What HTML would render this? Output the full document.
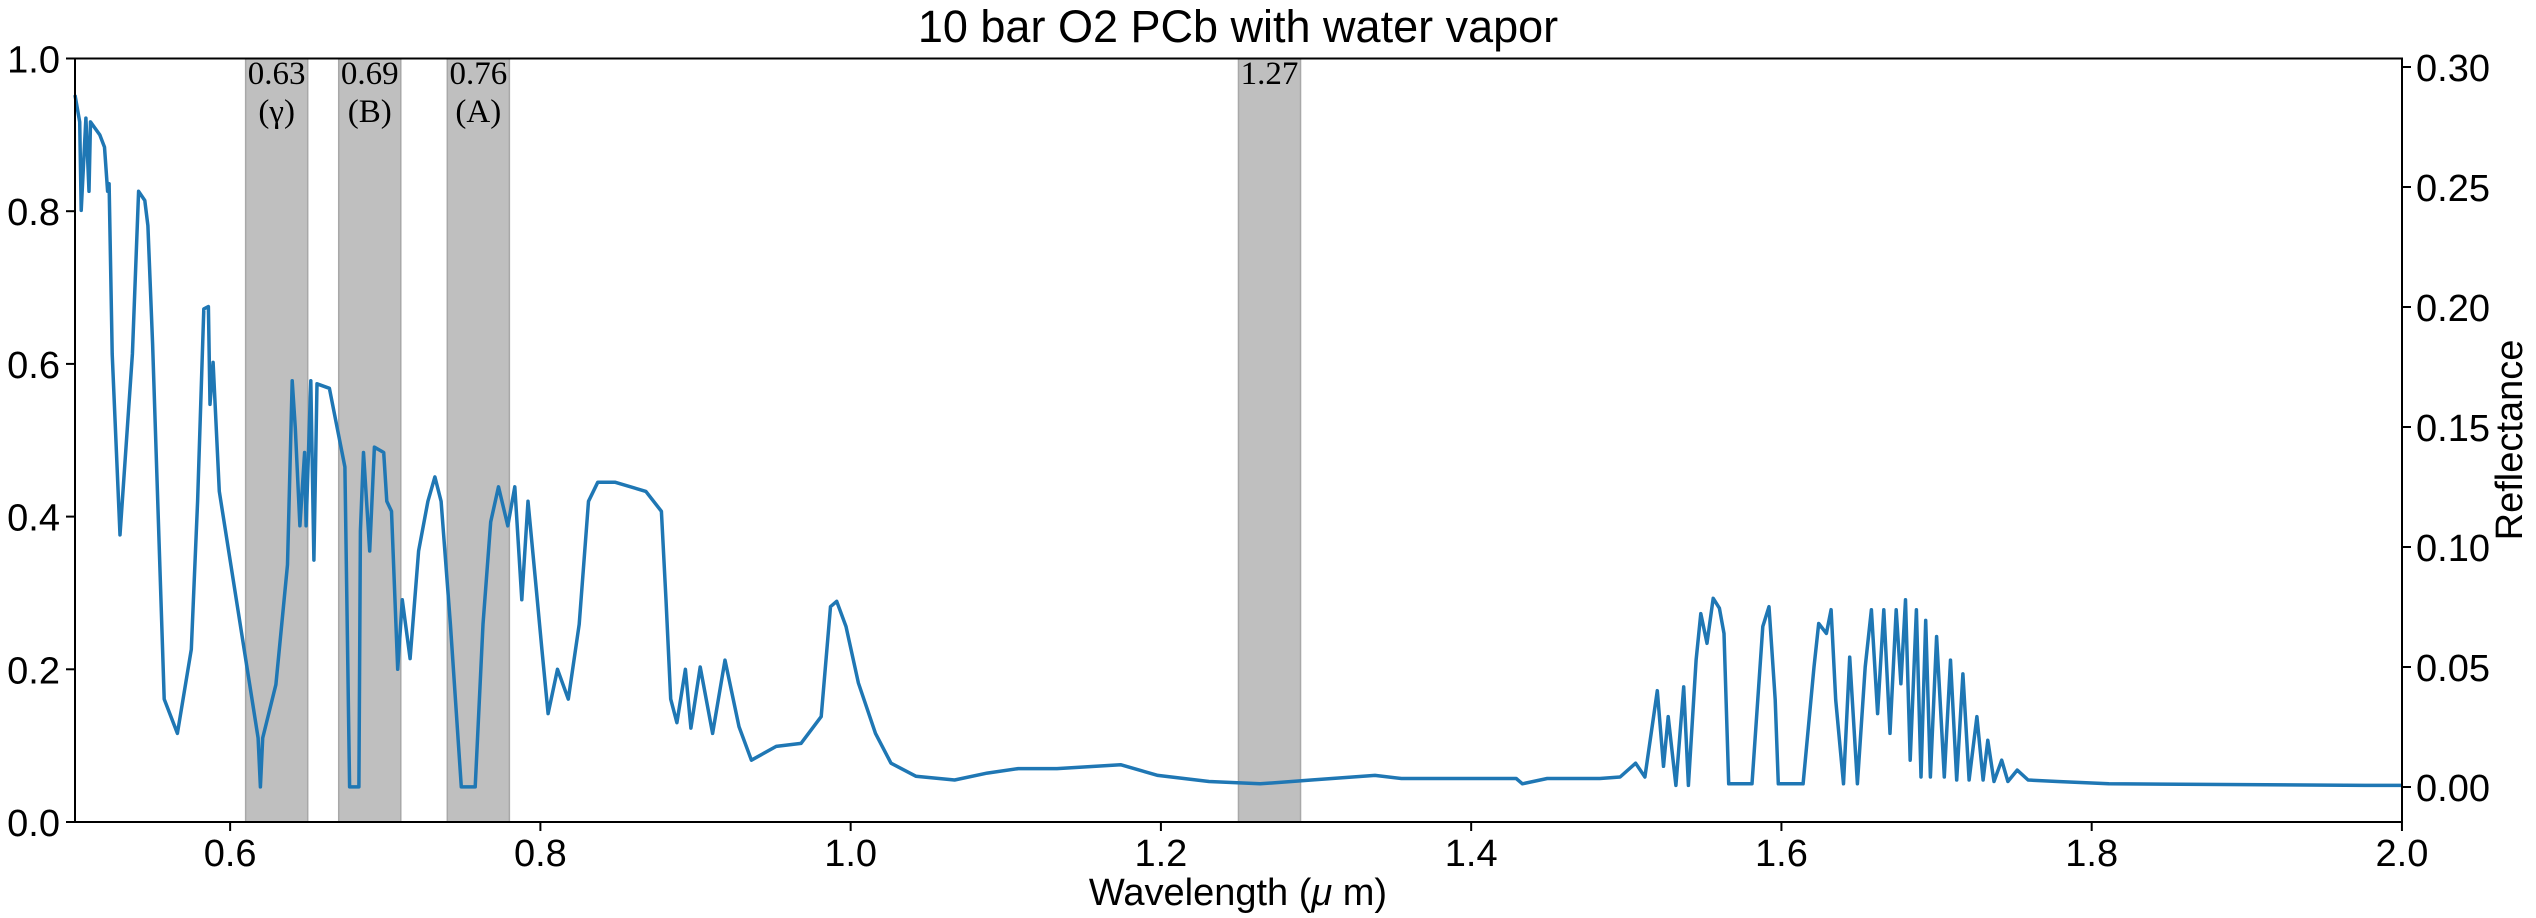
<!DOCTYPE html>
<html><head><meta charset="utf-8"><style>
body{margin:0;background:#fff;}
svg{display:block;font-family:"Liberation Sans","DejaVu Sans",sans-serif;}
</style></head><body>
<svg id="chart" width="2536" height="918" viewBox="0 0 2536 918">
<g id="bands"></g>
<g id="series"></g>
<rect x="75" y="58.5" width="2327" height="763.5" fill="none" stroke="#000" stroke-width="2"/>
<g id="xticks"></g>
<g id="yticks"></g>
<g id="rticks"></g>
<text x="1238" y="42" font-size="45" text-anchor="middle">10 bar O2 PCb with water vapor</text>
<text x="1238" y="905" font-size="38" text-anchor="middle">Wavelength (<tspan font-style="italic">μ</tspan> m)</text>
<text x="0" y="0" font-size="38" text-anchor="middle" transform="translate(2522,440) rotate(-90)">Reflectance</text>
</svg>
<script>
const wavelengths=[0.5,0.503,0.504,0.507,0.509,0.510,0.516,0.519,0.521,0.522,0.524,0.529,0.537,0.541,0.545,0.547,0.550,0.5575,0.566,0.575,0.579,0.583,0.586,0.587,0.589,0.593,0.618,0.6195,0.621,0.6295,0.637,0.640,0.642,0.645,0.648,0.649,0.652,0.654,0.656,0.664,0.674,0.677,0.683,0.684,0.686,0.690,0.693,0.699,0.701,0.704,0.708,0.711,0.716,0.7215,0.7275,0.732,0.736,0.742,0.749,0.758,0.763,0.768,0.773,0.779,0.7835,0.788,0.792,0.7965,0.801,0.805,0.811,0.818,0.825,0.831,0.837,0.848,0.868,0.878,0.881,0.884,0.888,0.8935,0.897,0.903,0.911,0.919,0.928,0.936,0.952,0.968,0.981,0.987,0.991,0.997,1.005,1.016,1.026,1.042,1.067,1.088,1.108,1.133,1.174,1.198,1.231,1.264,1.297,1.338,1.355,1.429,1.433,1.449,1.483,1.496,1.506,1.512,1.520,1.524,1.527,1.532,1.537,1.540,1.545,1.548,1.552,1.556,1.560,1.563,1.566,1.581,1.588,1.592,1.596,1.598,1.614,1.621,1.624,1.629,1.632,1.635,1.640,1.644,1.649,1.654,1.658,1.662,1.666,1.670,1.674,1.677,1.680,1.683,1.687,1.690,1.693,1.696,1.700,1.705,1.709,1.713,1.717,1.721,1.726,1.730,1.733,1.737,1.742,1.746,1.752,1.759,1.778,1.811,1.976,2.0];
const fluxValues=[0.952,0.917,0.801,0.922,0.826,0.917,0.900,0.884,0.826,0.836,0.613,0.376,0.613,0.826,0.814,0.781,0.626,0.161,0.116,0.226,0.420,0.672,0.675,0.547,0.602,0.433,0.110,0.046,0.110,0.180,0.337,0.578,0.516,0.388,0.484,0.388,0.578,0.343,0.574,0.568,0.465,0.046,0.046,0.381,0.484,0.355,0.491,0.484,0.420,0.407,0.200,0.291,0.214,0.355,0.420,0.452,0.420,0.259,0.046,0.046,0.259,0.393,0.439,0.388,0.439,0.291,0.420,0.323,0.226,0.142,0.200,0.161,0.259,0.420,0.445,0.445,0.433,0.407,0.291,0.161,0.130,0.200,0.123,0.203,0.116,0.212,0.125,0.081,0.099,0.103,0.138,0.282,0.289,0.256,0.182,0.116,0.077,0.060,0.055,0.064,0.070,0.070,0.075,0.061,0.053,0.050,0.055,0.061,0.057,0.057,0.050,0.057,0.057,0.059,0.077,0.059,0.172,0.073,0.138,0.048,0.177,0.048,0.212,0.273,0.234,0.293,0.280,0.247,0.050,0.050,0.256,0.282,0.160,0.050,0.050,0.203,0.260,0.247,0.278,0.160,0.050,0.216,0.050,0.203,0.278,0.142,0.278,0.116,0.278,0.181,0.291,0.081,0.278,0.059,0.264,0.059,0.243,0.059,0.212,0.055,0.194,0.055,0.138,0.055,0.107,0.053,0.081,0.053,0.068,0.055,0.053,0.050,0.048,0.048];
const xTicks=[0.6,0.8,1.0,1.2,1.4,1.6,1.8,2.0];
const xTickLabels=["0.6","0.8","1.0","1.2","1.4","1.6","1.8","2.0"];
const yTicks=[0,0.2,0.4,0.6,0.8,1.0];
const yTickLabels=["0.0","0.2","0.4","0.6","0.8","1.0"];
const rTicks=[0,0.05,0.10,0.15,0.20,0.25,0.30];
const rTickLabels=["0.00","0.05","0.10","0.15","0.20","0.25","0.30"];
const bandStarts=[0.61,0.67,0.74,1.25];
const bandEnds=[0.65,0.71,0.78,1.29];
const bandLabels=[["0.63","(γ)"],["0.69","(B)"],["0.76","(A)"],["1.27"]];

const NS="http://www.w3.org/2000/svg";
const X=w=>75+(w-0.5)*1551.3;
const Y=v=>822-v*763.5;
const R=r=>787-r*2400;
function mk(tag,attrs,parent){const e=document.createElementNS(NS,tag);for(const k in attrs)e.setAttribute(k,attrs[k]);parent.appendChild(e);return e;}

const bands=document.getElementById('bands');
bandStarts.forEach((s,i)=>{
  const r=mk('rect',{x:X(s),y:58.5,width:X(bandEnds[i])-X(s),height:763.5,fill:'#bfbfbf',stroke:'#a8a8a8','stroke-width':1.5},bands);
  
  
  bandLabels[i].forEach((t,j)=>{
    const tx=mk('text',{x:(X(s)+X(bandEnds[i]))/2,y:84+j*38,'font-size':33,'text-anchor':'middle','font-family':'Liberation Serif, serif'},bands);
    tx.textContent=t;
    
    
  });
});

const series=document.getElementById('series');
let d='';
wavelengths.forEach((w,i)=>{d+=(i?'L':'M')+X(w).toFixed(1)+','+Y(fluxValues[i]).toFixed(1);});
const p=mk('path',{d:d,fill:'none',stroke:'#1f77b4','stroke-width':3.5,'stroke-linejoin':'round'},series);



const xg=document.getElementById('xticks');
xTicks.forEach((t,i)=>{
  const l=mk('line',{x1:X(t),x2:X(t),y1:822,y2:831,stroke:'#000','stroke-width':2},xg);
  
  
  const tx=mk('text',{x:X(t),y:866,'font-size':38,'text-anchor':'middle'},xg);
  tx.textContent=xTickLabels[i];
  
  
});
const yg=document.getElementById('yticks');
yTicks.forEach((t,i)=>{
  const l=mk('line',{x1:66,x2:75,y1:Y(t),y2:Y(t),stroke:'#000','stroke-width':2},yg);
  
  
  const tx=mk('text',{x:60,y:Y(t)+14,'font-size':38,'text-anchor':'end'},yg);
  tx.textContent=yTickLabels[i];
  
  
});
const rg=document.getElementById('rticks');
rTicks.forEach((t,i)=>{
  const l=mk('line',{x1:2402,x2:2411,y1:R(t),y2:R(t),stroke:'#000','stroke-width':2},rg);
  
  
  const tx=mk('text',{x:2416,y:R(t)+14,'font-size':38,'text-anchor':'start'},rg);
  tx.textContent=rTickLabels[i];
  
  
});
</script>
</body></html>
